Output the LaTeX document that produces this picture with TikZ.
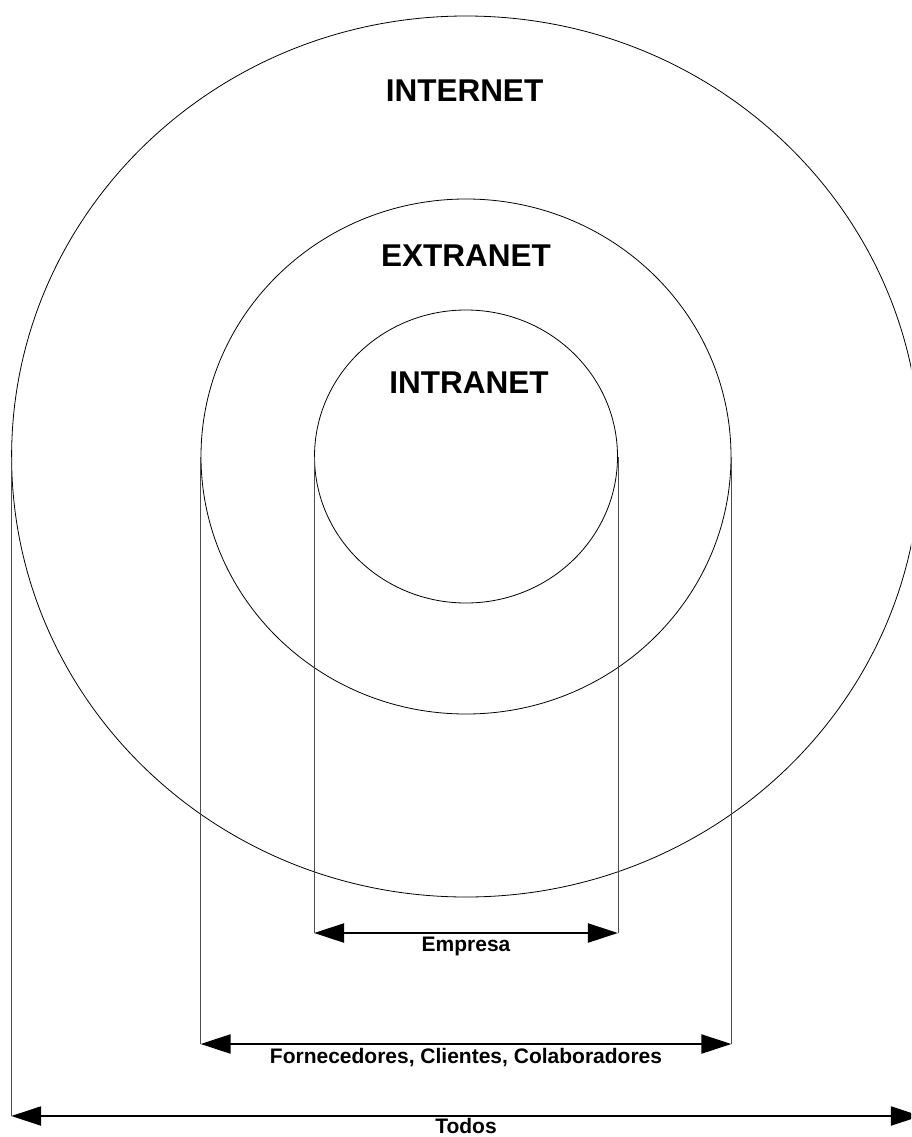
\documentclass[tikz,border=0pt]{standalone}
\usepackage{fontspec}
\setmainfont{Liberation Sans}
\usetikzlibrary{arrows.meta,shapes.geometric}
\tikzset{
  ring/.style={draw=black, line width=0.8pt, ellipse, inner sep=0pt},
  guide/.style={draw=black!70, line width=0.5pt},
  dimarrow/.style={line width=2.3pt, {Triangle[length=30pt,width=19pt]}-{Triangle[length=30pt,width=19pt]}},
  bigtitle/.style={inner sep=0pt, font=\bfseries\fontsize{31.5}{36}\selectfont},
  dimlabel/.style={inner sep=0pt, anchor=north, font=\bfseries\fontsize{21}{24}\selectfont}
}
\begin{document}
\begin{tikzpicture}[x=1pt,y=-1pt]
\useasboundingbox (0,0) rectangle (911,1137);
\clip (0,0) rectangle (911,1137);
\fill[white] (0,0) rectangle (911,1137);
% rings
\node[ring, minimum width=908.8pt, minimum height=881pt] (internet) at (466,456.5) {};
\node[ring, minimum width=530pt, minimum height=515pt] (extranet) at (466,456.5) {};
\node[ring, minimum width=303pt, minimum height=293pt] (intranet) at (466,456.5) {};
% titles
\node[bigtitle] (tInternet) at (464.5,90.5) {INTERNET};
\node[bigtitle] (tExtranet) at (466,256) {EXTRANET};
\node[bigtitle] (tIntranet) at (469,383) {INTRANET};
% guide line ends
\coordinate (aL) at (intranet.west |- 0,933);
\coordinate (aR) at (intranet.east |- 0,933);
\coordinate (bL) at (extranet.west |- 0,1044);
\coordinate (bR) at (extranet.east |- 0,1044);
\coordinate (cL) at (internet.west |- 0,1116);
\coordinate (cR) at (internet.east |- 0,1116);
% guides
\draw[guide] (intranet.west) -- (aL);
\draw[guide] (intranet.east) -- (aR);
\draw[guide] (extranet.west) -- (bL);
\draw[guide] (extranet.east) -- (bR);
\draw[guide] (internet.west) -- (cL);
\draw[guide] (internet.east) -- (cR);
% dimension arrows
\draw[dimarrow] (aL) -- (aR);
\draw[dimarrow] (bL) -- (bR);
\draw[dimarrow] (cL) -- (cR);
% labels
\node[dimlabel] (lEmpresa) at (466,937) {Empresa};
\node[dimlabel] (lForn) at (466,1048) {Fornecedores, Clientes, Colaboradores};
\node[dimlabel] (lTodos) at (466,1118.5) {Todos};
\end{tikzpicture}
\end{document}
